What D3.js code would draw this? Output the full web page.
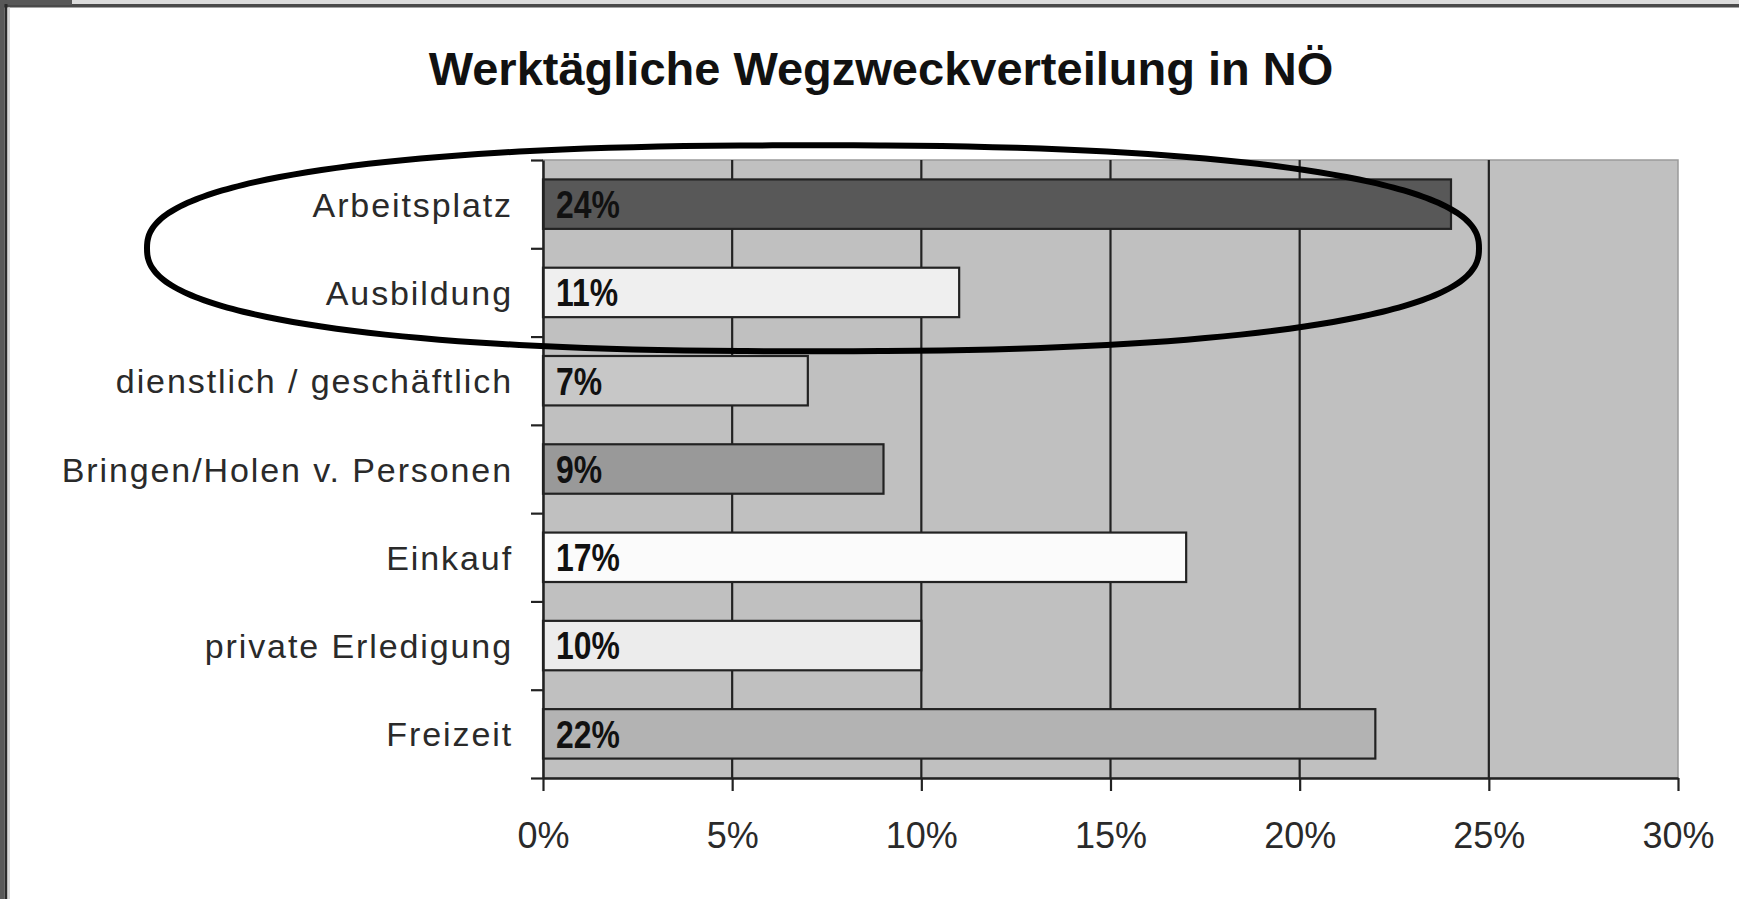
<!DOCTYPE html>
<html>
<head>
<meta charset="utf-8">
<script src="https://cdn.jsdelivr.net/npm/d3@7"></script>
<style>
  html, body { margin: 0; padding: 0; background: #ffffff; }
  svg { display: block; }
</style>
</head>
<body>
<svg id="chart" width="1739" height="899"></svg>
<script>
// ---- data ----
const chartTitle = "Werktägliche Wegzweckverteilung in NÖ";
const categories = [
  "Arbeitsplatz",
  "Ausbildung",
  "dienstlich / geschäftlich",
  "Bringen/Holen v. Personen",
  "Einkauf",
  "private Erledigung",
  "Freizeit"
];
const values = [24, 11, 7, 9, 17, 10, 22];
const barColors = ["#585858", "#efefef", "#c7c7c7", "#999999", "#fbfbfb", "#ececec", "#b3b3b3"];
const xTickValues = [0, 5, 10, 15, 20, 25, 30];
const xTickLabels = ["0%", "5%", "10%", "15%", "20%", "25%", "30%"];
const highlighted = ["Arbeitsplatz", "Ausbildung"];

// ---- layout ----
const W = 1739, H = 899;
const plot = { left: 543, right: 1678, top: 160, bottom: 778 };
const svg = d3.select("#chart");

const x = d3.scaleLinear().domain([0, 30]).range([plot.left, plot.right]);
const y = d3.scaleBand().domain(categories).range([plot.top, plot.bottom])
  .paddingInner(0.44).paddingOuter(0.22);
const yIdx = d3.scaleLinear().domain([0, categories.length]).range([plot.top, plot.bottom]);

// frame (page edges)
svg.append("rect").attr("x", 0).attr("y", 0).attr("width", W).attr("height", 4).attr("fill", "#dcdcdc");
svg.append("rect").attr("x", 0).attr("y", 4).attr("width", W).attr("height", 3.5).attr("fill", "#4a4a4a");
svg.append("rect").attr("x", 0).attr("y", 0).attr("width", 72).attr("height", 5).attr("fill", "#585858");
svg.append("rect").attr("x", 0).attr("y", 0).attr("width", 4.5).attr("height", H).attr("fill", "#585858");
svg.append("rect").attr("x", 4.5).attr("y", 4).attr("width", 3).attr("height", H).attr("fill", "#2a2a2a");
svg.append("rect").attr("x", 7.5).attr("y", 7.5).attr("width", 2.5).attr("height", H).attr("fill", "#d8d8d8");

// title
svg.append("text")
  .attr("x", 881).attr("y", 85)
  .attr("text-anchor", "middle")
  .attr("font-family", "'Liberation Sans', Arial, sans-serif")
  .attr("font-weight", "bold")
  .attr("font-size", 47)
  .attr("fill", "#111")
  .text(chartTitle);

// plot background
svg.append("rect")
  .attr("x", plot.left).attr("y", plot.top)
  .attr("width", plot.right - plot.left).attr("height", plot.bottom - plot.top)
  .attr("fill", "#c0c0c0").attr("stroke", "#9a9a9a").attr("stroke-width", 1.5);

// gridlines
svg.append("g").selectAll("line")
  .data(xTickValues.filter(d => d > 0 && d < 30))
  .join("line")
  .attr("x1", d => x(d)).attr("x2", d => x(d))
  .attr("y1", plot.top).attr("y2", plot.bottom)
  .attr("stroke", "#222").attr("stroke-width", 2.2);

// bars
svg.append("g").selectAll("rect")
  .data(categories)
  .join("rect")
  .attr("x", x(0))
  .attr("y", d => y(d))
  .attr("width", (d, i) => x(values[i]) - x(0))
  .attr("height", y.bandwidth())
  .attr("fill", (d, i) => barColors[i])
  .attr("stroke", "#222").attr("stroke-width", 2.2);

// value labels
svg.append("g").selectAll("text")
  .data(categories)
  .join("text")
  .attr("transform", d => `translate(${x(0) + 13},${y(d) + y.bandwidth() / 2 + 13.8}) scale(0.84,1)`)
  .attr("font-family", "'Liberation Sans', Arial, sans-serif")
  .attr("font-weight", "bold")
  .attr("font-size", 38)
  .attr("fill", "#111")
  .text((d, i) => values[i] + "%");

// category labels
svg.append("g").selectAll("text")
  .data(categories)
  .join("text")
  .attr("x", plot.left - 30)
  .attr("y", d => y(d) + y.bandwidth() / 2 + 12.5)
  .attr("text-anchor", "end")
  .attr("font-family", "'Liberation Sans', Arial, sans-serif")
  .attr("font-size", 34)
  .attr("letter-spacing", 1.9)
  .attr("fill", "#2a2a2a")
  .text(d => d);

// y axis (ticks at band boundaries)
const yAxis = svg.append("g")
  .attr("transform", `translate(${plot.left},0)`)
  .call(d3.axisLeft(yIdx).tickValues(d3.range(categories.length + 1)).tickSize(12).tickSizeOuter(0).tickFormat(""));
yAxis.select(".domain").attr("stroke", "#222").attr("stroke-width", 2.5);
yAxis.selectAll(".tick line").attr("stroke", "#222").attr("stroke-width", 2.2);

// x axis
const xAxis = svg.append("g")
  .attr("transform", `translate(0,${plot.bottom})`)
  .call(d3.axisBottom(x).tickValues(xTickValues).tickSize(13).tickSizeOuter(0).tickPadding(31)
    .tickFormat((d, i) => xTickLabels[i]));
xAxis.select(".domain").attr("stroke", "#222").attr("stroke-width", 2.5);
xAxis.selectAll(".tick line").attr("stroke", "#222").attr("stroke-width", 2.2);
xAxis.selectAll(".tick text")
  .attr("font-family", "'Liberation Sans', Arial, sans-serif")
  .attr("font-size", 36)
  .attr("fill", "#2a2a2a");

// hand-drawn style highlight oval around the first two categories
const ovalCx = 813;
const ovalCy = y(highlighted[1]) - y.step() * y.paddingInner() / 2;
const ovalRx = 666, ovalRy = 103, ovalN = 2.4;
const ovalPts = d3.range(0, 360, 2).map(a => {
  const t = a * Math.PI / 180;
  const c = Math.cos(t), s = Math.sin(t);
  return [ovalCx + ovalRx * Math.sign(c) * Math.pow(Math.abs(c), 2 / ovalN),
          ovalCy + ovalRy * Math.sign(s) * Math.pow(Math.abs(s), 2 / ovalN)];
});
svg.append("path")
  .attr("d", d3.line().curve(d3.curveCardinalClosed)(ovalPts))
  .attr("fill", "none").attr("stroke", "#000").attr("stroke-width", 6);
</script>
</body>
</html>
